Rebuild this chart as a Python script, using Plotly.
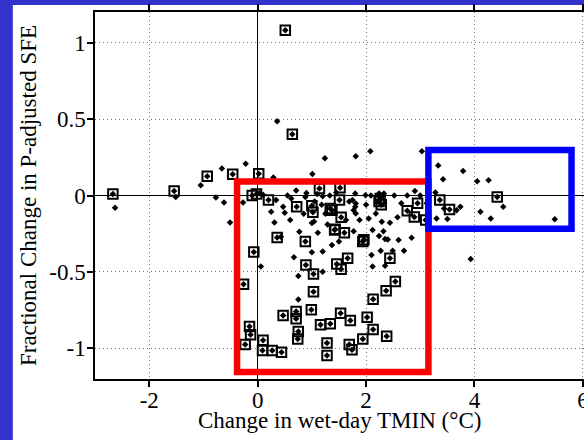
import plotly.graph_objects as go

# Stations flagged with an open square (each also drawn as a dot)
flag_x = [-2.67, -1.54, -0.93, -0.46, 0.02, 0.51, 0.64, -0.10, -0.02, 0.20,
          0.72, 1.00, 1.02, 1.34, 1.42, 0.36, 0.88, -0.07, 1.14, 1.52,
          1.51, 1.37, 1.54, 1.43, 1.60, 1.94, 1.96, 2.24, 2.28, 2.26,
          2.76, 2.95, 2.89, 3.10, 3.36, 3.54, 4.42, -0.26, -0.15, -0.13,
          -0.23, 0.10, 0.09, 0.27, 0.44, 0.89, 1.03, 1.03, 0.47, 0.71,
          0.71, 0.99, 0.75, 0.74, 1.16, 1.34, 1.28, 1.28, 1.66, 1.46,
          1.54, 2.44, 2.54, 2.37, 2.13, 1.53, 1.71, 2.02, 2.13, 1.94,
          2.38, 1.69, 1.74]
flag_y = [0.01, 0.03, 0.126, 0.139, 0.143, 1.08, 0.40, 0.0, 0.01, -0.03,
          -0.074, -0.067, -0.11, -0.085, -0.226, -0.274, -0.30, -0.37, 0.045, 0.05,
          -0.03, -0.096, -0.143, -0.22, -0.244, -0.30, -0.29, -0.04, -0.06, -0.02,
          -0.10, -0.05, -0.14, -0.16, -0.03, -0.091, -0.009, -0.58, -0.856, -0.91,
          -0.975, -0.947, -1.014, -1.014, -1.025, -0.454, -0.513, -0.63, -0.784, -0.758,
          -0.806, -0.747, -0.889, -0.938, -0.845, -0.838, -0.964, -1.047, -0.41, -0.448,
          -0.482, -0.41, -0.563, -0.623, -0.678, -0.77, -0.817, -0.797, -0.877, -0.938,
          -0.921, -0.975, -1.008]

# Remaining stations (dots only)
pt_x = [-2.63, -1.51, -1.05, -0.66, -0.22, -0.77, -0.62, -0.51, -0.27, 0.36,
        0.29, 0.06, 0.03, 0.10, 1.24, 1.81, 2.08, 3.03, 1.01, 0.71,
        0.90, 0.88, 1.10, 1.20, 1.33, 1.80, 1.99, 2.09, 2.24, 2.33,
        2.52, 2.76, 3.00, 3.28, 1.75, 1.81, 0.47, 0.50, 0.25, 0.34,
        0.31, 0.43, 0.77, 1.00, 1.04, 1.11, 1.29, 1.37, 1.63, 1.77,
        1.81, 1.88, 2.12, 2.18, 2.24, 2.29, 2.32, 2.35, 2.44, 2.58,
        2.60, 2.84, 2.27, 2.49, 2.70, 2.10, 2.12, 2.35, 0.67, 0.75,
        0.75, 1.00, 1.20, 1.20, 3.33, 3.79, 3.42, 4.05, 4.26, 3.44,
        3.74, 4.11, 4.53, 3.30, 3.50, 4.30, 5.48, 3.93, 3.67, 1.69,
        1.80, 1.77, 2.40, 0.55, 0.62, 1.45, 1.05, 1.18, 0.60, 0.85,
        1.25, 1.50, 2.00, 2.05, 2.65, 2.90, 3.12]
pt_y = [-0.08, -0.01, 0.067, 0.176, 0.208, -0.013, -0.045, -0.176, -0.045, 0.486,
        0.117, -0.465, 0.015, 0.005, 0.243, 0.256, 0.29, 0.29, 0.141, 0.033,
        0.017, -0.01, 0.01, -0.005, 0.0, 0.013, 0.002, 0.0, 0.013, 0.013,
        0.0, 0.0, 0.0, 0.02, -0.03, -0.052, -0.074, -0.113, -0.107, -0.03,
        -0.176, -0.27, -0.237, -0.18, -0.17, -0.243, -0.19, -0.324, -0.16, -0.233,
        -0.117, -0.16, -0.226, -0.117, -0.265, -0.172, -0.233, -0.285, -0.178, -0.143,
        -0.291, -0.276, -0.361, -0.361, -0.361, -0.389, -0.465, -0.46, -0.404, -0.526,
        -0.68, -0.371, -0.367, -0.498, 0.197, 0.16, 0.106, 0.093, 0.10, -0.085,
        -0.074, -0.107, -0.074, -0.15, -0.154, -0.15, -0.156, -0.415, -0.096, -0.04,
        -0.074, -0.096, -0.287, 0.0, -0.02, 0.02, -0.04, -0.06, -0.16, -0.12,
        -0.12, -0.30, -0.06, -0.15, -0.05, 0.03, -0.05]

x_ticks = [-2, 0, 2, 4, 6]
x_labels = ["-2", "0", "2", "4", "6"]
y_ticks = [-1, -0.5, 0, 0.5, 1]
y_labels = ["-1", "-0.5", "0", "0.5", "1"]

# Highlight boxes: (x0, x1, y0, y1)
red_box = (-0.38, 3.15, -1.154, 0.091)
blue_box = (3.15, 5.79, -0.218, 0.298)

FONT = "Liberation Serif"

fig = go.Figure()

fig.add_trace(go.Scatter(
    x=flag_x, y=flag_y, mode="markers",
    marker=dict(symbol="square-open", size=9.5, color="black",
                line=dict(width=2, color="black")),
    hoverinfo="skip", showlegend=False,
))
fig.add_trace(go.Scatter(
    x=pt_x + flag_x, y=pt_y + flag_y, mode="markers",
    marker=dict(symbol="diamond", size=5, color="black", line=dict(width=0)),
    hoverinfo="skip", showlegend=False,
))

shapes = [
    # white card behind the plot, leaving a blue frame on the left and top
    dict(type="rect", xref="paper", yref="paper", x0=-0.168, x1=1.2,
         y0=-0.3, y1=1.019, fillcolor="white", line=dict(width=0), layer="below"),
]
for (x0, x1, y0, y1), col in [(red_box, "#ff0000"), (blue_box, "#0000ff")]:
    shapes.append(dict(type="rect", xref="x", yref="y", x0=x0, x1=x1, y0=y0, y1=y1,
                       line=dict(color=col, width=6.5), fillcolor="rgba(0,0,0,0)",
                       layer="above"))

axis_common = dict(
    automargin=False, ticklabeloverflow="allow",
    showline=True, linecolor="black", linewidth=1.5, mirror="ticks",
    ticks="outside", ticklen=6, tickwidth=1.5, tickcolor="black",
    showgrid=True, gridcolor="#777777", gridwidth=1, griddash="1px,3px",
    zeroline=True, zerolinecolor="black", zerolinewidth=1,
    tickfont=dict(family=FONT, size=23, color="black"),
)

fig.update_layout(
    template="none",
    width=584, height=440,
    margin=dict(l=95, r=0, t=12, b=61),
    paper_bgcolor="#3333cc", plot_bgcolor="white",
    shapes=shapes,
    xaxis=dict(range=[-3.0, 6.02], tickvals=x_ticks, ticktext=x_labels,
               ticklabelstandoff=-6, **axis_common),
    yaxis=dict(range=[-1.2, 1.2], tickvals=y_ticks, ticktext=y_labels,
               ticklabelstandoff=-3,
               title=dict(text="Fractional Change in P-adjusted SFE",
                          font=dict(family=FONT, size=23, color="black"),
                          standoff=6),
               **axis_common),
    annotations=[dict(
        text="Change in wet-day TMIN (°C)", xref="paper", yref="paper",
        x=0.5, y=-0.1144, xanchor="center", yanchor="middle", showarrow=False,
        font=dict(family=FONT, size=23, color="black"),
    )],
)

fig.write_html("out.html")
